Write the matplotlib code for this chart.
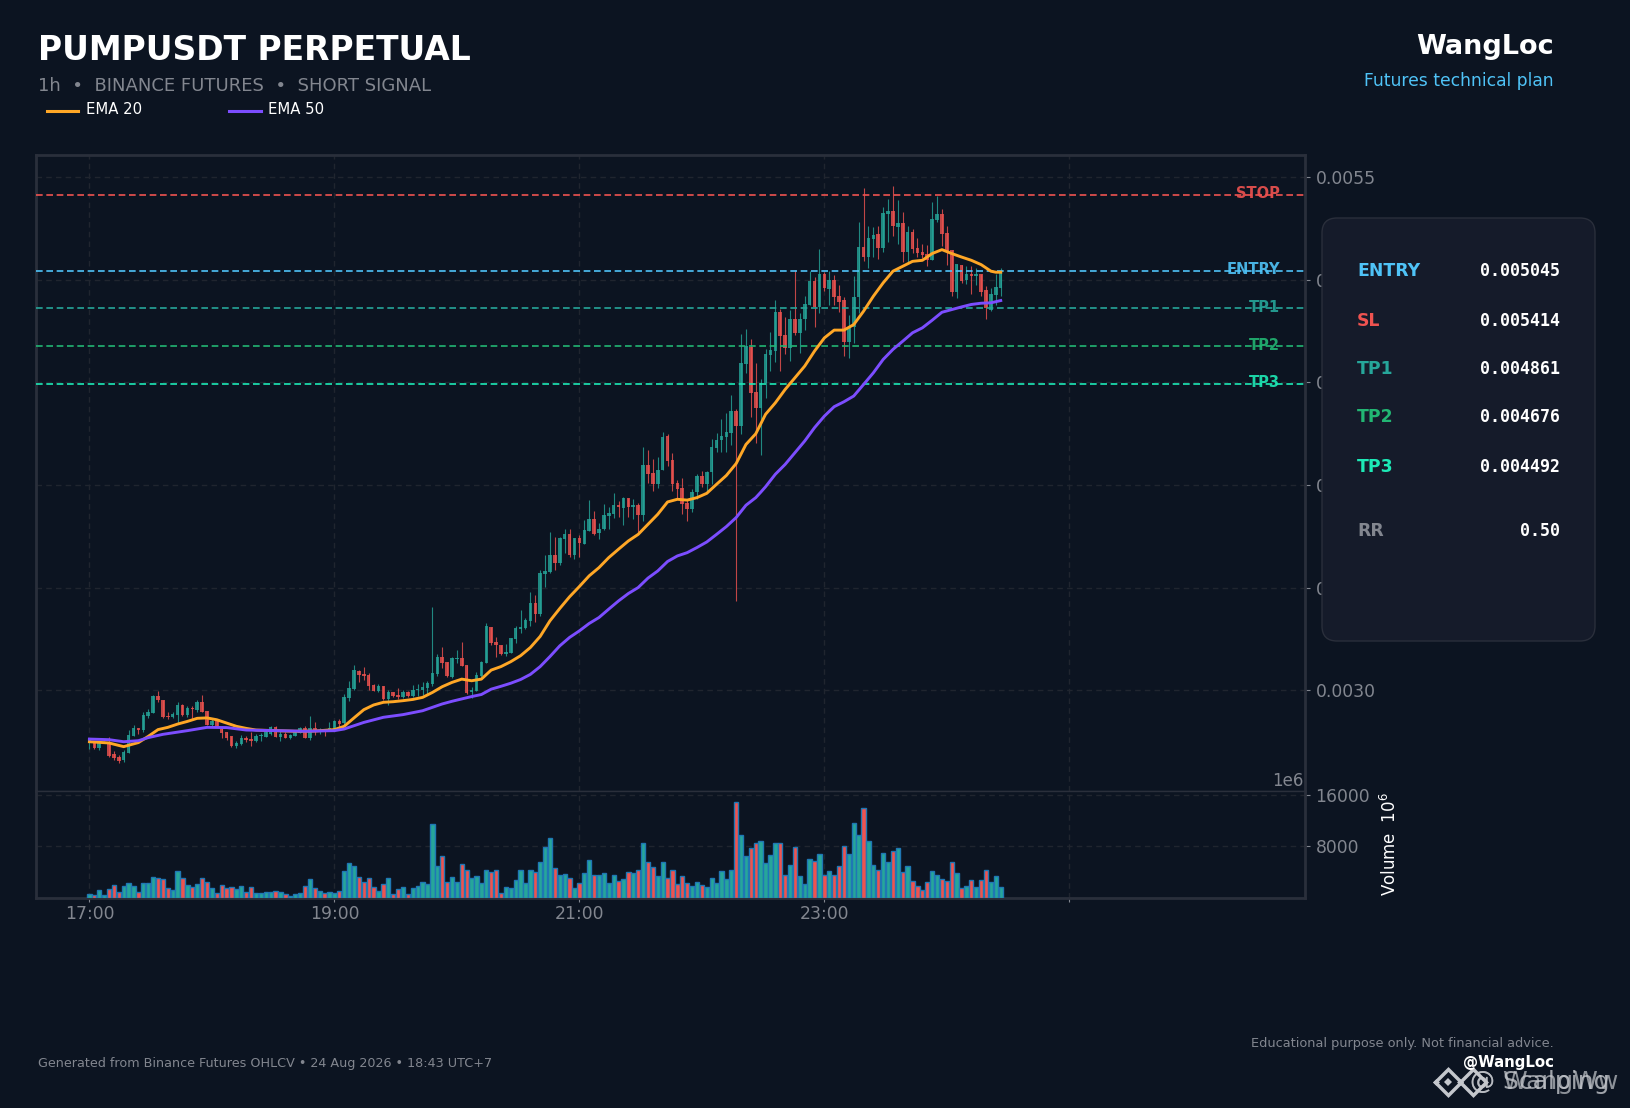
import matplotlib
matplotlib.use("Agg")
import matplotlib.pyplot as plt
from matplotlib.lines import Line2D
from matplotlib.patches import FancyBboxPatch
from matplotlib.transforms import IdentityTransform

W, H = 1631, 1108
BG = "#0c1421"
PANEL = "#151b2a"
EDGE = "#2a2f3b"
GRID = "#20252f"
GREY = "#82868f"
UP = "#26a69a"
DOWN = "#ef5350"

# prices in 1e-6 USDT
opens = [2744,2744,2718,2747,2744,2692,2678,2660,2695,2776,
         2817,2807,2875,2890,2973,2953,2875,2870,2882,2929,
         2880,2916,2903,2943,2900,2832,2853,2812,2796,2776,
         2728,2739,2768,2763,2754,2776,2775,2788,2820,2772,
         2788,2770,2778,2794,2817,2768,2817,2801,2804,2809,
         2809,2849,2841,2963,3007,3094,3080,3076,3026,2997,
         3021,2956,2992,2977,2966,2992,2973,3000,3000,3012,
         3031,3078,3162,3136,3067,3153,3157,3123,2992,2997,
         3068,3133,3311,3237,3221,3179,3182,3250,3300,3303,
         3337,3425,3371,3568,3577,3658,3619,3736,3760,3658,
         3741,3713,3775,3833,3765,3785,3850,3858,3902,3889,
         3936,3893,3902,3853,4096,4057,4004,4072,4239,4120,
         4008,3984,3911,3882,3965,4043,4005,4062,4180,4218,
         4233,4252,4359,4288,4588,4675,4452,4374,4495,4636,
         4651,4845,4729,4666,4807,4743,4807,4879,4996,4870,
         5030,4957,4999,4923,4904,4695,4768,4914,5162,5113,
         5200,5225,5157,5322,5337,5259,5278,5137,5234,5157,
         5137,5128,5098,5293,5322,5230,5147,4943,5074,4998,
         5030,5017,5030,4952,4855,4928,4962]
closes = [2760,2718,2744,2750,2682,2671,2658,2702,2783,2819,
          2809,2880,2895,2973,2952,2872,2870,2885,2929,2880,
          2914,2909,2943,2896,2832,2851,2825,2793,2767,2729,
          2744,2770,2760,2755,2780,2783,2802,2820,2773,2788,
          2768,2783,2796,2817,2768,2817,2796,2809,2799,2819,
          2853,2838,2966,3010,3099,3075,3070,3023,2997,3023,
          2958,2992,2973,2969,2992,2973,3000,3007,3016,3036,
          3085,3162,3133,3068,3157,3157,3117,2987,3002,3075,
          3138,3315,3229,3222,3177,3187,3255,3305,3308,3344,
          3425,3371,3571,3581,3658,3619,3741,3760,3658,3741,
          3718,3780,3833,3764,3788,3853,3863,3902,3892,3936,
          3893,3902,3853,4096,4052,4004,4072,4234,4117,4004,
          3979,3906,3882,3966,4043,4004,4062,4184,4222,4238,
          4257,4359,4288,4593,4680,4447,4374,4499,4641,4656,
          4845,4724,4666,4807,4742,4811,4884,4996,4870,5030,
          4962,4999,4918,4894,4695,4771,4918,5162,5113,5205,
          5220,5157,5327,5337,5262,5278,5137,5234,5152,5132,
          5123,5098,5298,5322,5225,5139,4943,5079,4996,5030,
          5017,5030,4943,4863,4933,4967,5040]
highs = [2763,2750,2755,2754,2772,2707,2686,2712,2809,2832,
         2817,2893,2909,2976,2998,2953,2896,2896,2942,2934,
         2922,2922,2955,2976,2900,2861,2861,2825,2799,2780,
         2755,2783,2780,2796,2788,2793,2809,2825,2825,2804,
         2796,2788,2809,2820,2825,2877,2844,2819,2812,2844,
         2856,2861,2981,3047,3125,3101,3112,3085,3031,3031,
         3021,3000,2992,3010,3003,2995,3026,3031,3041,3046,
         3404,3177,3209,3140,3161,3196,3238,3123,3015,3088,
         3143,3328,3311,3258,3221,3226,3255,3315,3393,3355,
         3480,3467,3587,3660,3772,3749,3749,3785,3788,3744,
         3756,3830,3927,3874,3817,3910,3895,3963,3923,3942,
         3939,3934,3911,4187,4169,4128,4138,4260,4250,4158,
         4023,4036,3931,3979,4052,4068,4070,4226,4255,4323,
         4353,4440,4372,4734,4761,4713,4593,4518,4664,4745,
         4904,4858,4819,4855,5050,4839,4920,5042,5014,5150,
         5040,5042,5025,4977,4917,4829,5017,5283,5447,5264,
         5257,5260,5354,5393,5458,5387,5328,5264,5247,5204,
         5176,5171,5380,5406,5346,5260,5147,5079,5074,5066,
         5066,5058,5030,4969,4961,5029,5056]
lows = [2715,2715,2712,2744,2678,2660,2648,2653,2695,2776,
        2788,2799,2866,2890,2942,2867,2861,2866,2841,2877,
        2869,2859,2896,2893,2832,2825,2825,2770,2760,2725,
        2721,2734,2747,2731,2750,2755,2772,2783,2772,2754,
        2767,2763,2776,2793,2767,2760,2783,2788,2780,2804,
        2804,2817,2832,2950,3003,3042,3052,3002,2997,2994,
        2955,2929,2966,2958,2961,2966,2968,2974,2977,2982,
        3023,3068,3107,3065,3059,3133,3117,2984,2961,2997,
        3063,3133,3221,3161,3174,3166,3180,3229,3282,3299,
        3315,3334,3363,3506,3574,3587,3610,3668,3650,3642,
        3652,3712,3775,3756,3736,3782,3788,3840,3846,3807,
        3845,3837,3772,3825,4012,3971,3987,4072,4093,3971,
        3934,3858,3825,3869,3931,3992,3963,4004,4161,4161,
        4161,4197,3434,4249,4544,4333,4204,4145,4426,4554,
        4599,4554,4638,4606,4730,4644,4755,4875,4771,4836,
        4946,4878,4878,4845,4628,4620,4690,4839,5092,5058,
        5111,5102,5137,5183,5212,5176,5085,5082,5131,5111,
        5105,5069,5098,5280,5163,5074,4923,4910,4985,4980,
        4933,4977,4920,4810,4847,4875,4920]
# volume in units of 1e6
volumes = [520,470,1140,360,1300,1920,940,1770,2240,1770,
           940,2240,2240,3170,3020,2860,1460,1140,4110,3020,
           1920,1610,2080,3020,2390,1460,780,1920,1460,1610,
           1300,1770,940,1610,780,780,940,940,1090,940,
           620,310,620,780,1770,2860,1460,1090,780,940,
           780,1090,4110,5460,4990,3280,2390,3020,1610,990,
           2080,3020,620,1400,1610,620,1460,1770,2390,2080,
           11440,4890,6450,2390,3170,2390,5300,4370,3020,3330,
           2240,4370,4060,4370,780,1610,1460,2700,4260,2240,
           4370,4060,5620,7850,9260,4580,3590,3740,3120,1560,
           2340,3900,5930,3590,3590,3900,2340,3590,2650,2960,
           4060,3900,4370,8580,5620,4840,3430,5620,3120,4370,
           2180,3430,2340,1870,2500,2030,1720,3120,2340,4210,
           2960,4370,14980,9830,6550,7800,8580,8890,5460,6710,
           8580,8580,3590,5150,7960,3430,2180,6080,5770,6860,
           3590,4210,3590,4990,8110,6860,11700,9830,14040,8890,
           5150,4370,7020,5620,7330,7800,4060,4990,2650,1870,
           1250,2500,4210,3590,2960,2650,5620,3900,1560,1870,
           2810,1720,2810,4370,2500,3430,1720]

ema20_x = [0,4,7,10,12,14,16,18,20,22,24,26,28,30,32,34,38,42,46,50,52,54,56,58,60,62,64,66,68,
           70,72,74,76,78,80,82,84,86,88,90,92,94,96,98,100,102,104,106,108,110,112,114,116,118,
           120,122,124,126,128,130,132,134,136,138,140,142,144,146,148,150,152,154,156,158,160,
           162,164,166,168,170,172,174,176,178,180,182,184,185,186]
ema20 = [2750,2744,2726,2746,2776,2809,2820,2836,2849,2864,2866,2857,2841,2825,2815,2807,2804,2801,2802,
         2809,2825,2866,2906,2929,2942,2945,2950,2956,2966,2990,3018,3039,3055,3047,3055,3099,3116,3140,
         3169,3209,3263,3339,3399,3456,3506,3558,3598,3647,3688,3728,3760,3809,3858,3918,3931,3927,3939,
         3960,4004,4047,4105,4198,4250,4345,4401,4466,4523,4580,4653,4717,4755,4755,4782,4847,4920,4985,
         5042,5066,5090,5095,5128,5147,5128,5111,5095,5074,5042,5037,5037]
ema50_x = [0,4,7,10,12,15,20,24,28,32,38,44,50,52,54,56,60,64,68,72,74,78,80,82,84,86,88,90,92,94,96,98,
           100,102,104,106,108,110,112,114,116,118,120,122,124,126,128,130,132,134,136,137,138,140,142,
           144,146,148,150,152,154,156,158,160,162,164,166,168,170,172,174,176,178,180,182,184,186]
ema50 = [2763,2760,2750,2755,2770,2786,2804,2820,2819,2807,2804,2801,2804,2812,2828,2844,2869,2882,2901,
         2934,2947,2970,2980,3006,3020,3035,3053,3078,3116,3165,3217,3258,3290,3326,3355,3396,3436,3472,
         3501,3547,3582,3628,3655,3671,3696,3723,3760,3798,3842,3902,3939,3965,3992,4053,4101,4158,4215,
         4280,4336,4382,4406,4434,4490,4547,4612,4661,4701,4742,4766,4803,4842,4855,4868,4880,4886,4888,4899]

level_names = ["STOP", "ENTRY", "TP1", "TP2", "TP3"]
level_prices = [0.005414, 0.005045, 0.004861, 0.004676, 0.004492]
level_colors = ["#ef5350", "#4fc3f7", "#26a69a", "#22b573", "#1de9b6"]

panel_names = ["ENTRY", "SL", "TP1", "TP2", "TP3", "RR"]
panel_values = ["0.005045", "0.005414", "0.004861", "0.004676", "0.004492", "0.50"]
panel_colors = ["#4fc3f7", "#ef5350", "#26a69a", "#22b573", "#1de9b6", "#82868f"]
panel_rows = [271.5, 320.5, 369, 417.5, 466.5, 531]

time_ticks = [0, 50, 100, 150, 200]
time_labels = ["17:00", "19:00", "21:00", "23:00", ""]
price_ticks = [0.0030, 0.0035, 0.0040, 0.0045, 0.0050, 0.0055]
vol_ticks = [8000, 16000]


def fx(x):
    return x / W


def fy(y):
    return 1 - y / H


def label(x, y, s, **kw):
    kw.setdefault("va", "center")
    return fig.text(fx(x), fy(y), s, **kw)


fig = plt.figure(figsize=(W / 100, H / 100), dpi=100, facecolor=BG)
left, right = fx(36), fx(1305)
ax = fig.add_axes([left, fy(791), right - left, fy(155) - fy(791)], facecolor=BG)
vax = fig.add_axes([left, fy(897.6), right - left, fy(791) - fy(897.6)], facecolor=BG, sharex=ax)

xs = range(len(opens))
o = [v / 1e6 for v in opens]
c = [v / 1e6 for v in closes]
h = [v / 1e6 for v in highs]
l = [v / 1e6 for v in lows]
cols = [UP if a >= b else DOWN for a, b in zip(c, o)]

ax.vlines(xs, l, h, colors=cols, linewidth=0.8, alpha=0.8, zorder=3)
ax.bar(xs, [abs(a - b) for a, b in zip(c, o)], bottom=[min(a, b) for a, b in zip(c, o)],
       width=0.72, color=cols, alpha=0.8, linewidth=0, zorder=4)

ax.plot(ema20_x, [v / 1e6 for v in ema20], color="#ffa726", lw=2.1, zorder=5)
ax.plot(ema50_x, [v / 1e6 for v in ema50], color="#7c4dff", lw=2.1, zorder=6)

for name, price, col in zip(level_names, level_prices, level_colors):
    ax.axhline(price, color=col, lw=1.2, ls=(0, (4, 2.2)), zorder=4)
    ax.text(243, price + 0.000006, name, color=col, fontsize=10.5, fontweight="bold",
            ha="right", va="center", zorder=3.5, alpha=0.9)

vax.bar(xs, volumes, width=0.88, color=cols, edgecolor="#1f77b4", linewidth=1.0, zorder=3)

ax.set_xlim(-10.9, 248.1)
ax.set_ylim(0.00251, 0.005608)
vax.set_ylim(0, 16624)

ax.set_xticks(time_ticks)
vax.set_xticks(time_ticks)
vax.set_xticklabels(time_labels)
ax.set_yticks(price_ticks)
ax.set_yticklabels(["%.4f" % p for p in price_ticks])
vax.set_yticks(vol_ticks)
vax.set_yticklabels([str(v) for v in vol_ticks])

for a in (ax, vax):
    a.yaxis.tick_right()
    a.grid(True, color=GRID, lw=1, ls=(0, (4, 3)), zorder=0)
    a.set_axisbelow(True)
    a.tick_params(axis="y", colors=GREY, labelsize=12.4, length=3.5, width=0.8, pad=4)
    for s in a.spines.values():
        s.set_color(EDGE)
        s.set_linewidth(2)
ax.tick_params(axis="x", length=0, labelbottom=False)
vax.tick_params(axis="x", colors=GREY, labelsize=12.4, length=3, width=0.8, pad=2.5)
ax.spines["bottom"].set_linewidth(1)
vax.spines["top"].set_linewidth(1)

# header
label(38, 51, "PUMPUSDT PERPETUAL", color="white", fontsize=23.8, fontweight="bold")
label(38, 86, "1h  •  BINANCE FUTURES  •  SHORT SIGNAL", color=GREY, fontsize=13)
fig.add_artist(Line2D([fx(47), fx(78)], [fy(111), fy(111)], color="#ffa726", lw=2.2))
fig.add_artist(Line2D([fx(229), fx(261)], [fy(111), fy(111)], color="#7c4dff", lw=2.2))
label(86, 110, "EMA 20", color="white", fontsize=10.7)
label(268, 110, "EMA 50", color="white", fontsize=10.7)
label(1554, 47, "WangLoc", color="white", fontsize=19.5, fontweight="bold", ha="right")
label(1554, 81, "Futures technical plan", color="#4fc3f7", fontsize=12.3, ha="right")

# right hand panel, sits over the tick labels
panel = FancyBboxPatch((1322, H - 641), 273, 423, boxstyle="round,pad=0,rounding_size=15",
                       facecolor=PANEL, edgecolor=EDGE, linewidth=1,
                       transform=IdentityTransform(), zorder=2)
fig.add_artist(panel)
for name, value, col, row in zip(panel_names, panel_values, panel_colors, panel_rows):
    label(1357, row, name, color=col, fontsize=12.4, fontweight="bold", zorder=3)
    label(1560, row, value, color="white", fontsize=12, fontweight="bold",
          family="DejaVu Sans Mono", ha="right", zorder=3)

label(1304, 781, "1e6", color=GREY, fontsize=12, ha="right")
label(1390, 844, "Volume  $10^6$", color="white", fontsize=12, rotation=90, ha="center")

# footer
label(38, 1064, "Generated from Binance Futures OHLCV • 24 Aug 2026 • 18:43 UTC+7", color=GREY, fontsize=9.15)
label(1554, 1043, "Educational purpose only. Not financial advice.", color=GREY, fontsize=9.3, ha="right")
label(1554, 1063, "@WangLoc", color="white", fontsize=10.8, fontweight="bold", ha="right")

# overlapping watermark
WM = "#c4c7cc"
py = H - 1082
for x, y, size, lw, face in [(1448, py, 13, 2.5, "none"), (1448, py, 4, 0, WM), (1436, py, 3.5, 0, WM),
                             (1460, py, 3.5, 0, WM), (1473, py, 13, 2.5, "none")]:
    fig.add_artist(Line2D([x], [y], marker="D", ms=size, mfc=face, mec=WM, mew=lw, ls="none",
                          transform=IdentityTransform()))
label(1470, 1082, "@ Scalping", color=WM, fontsize=18, alpha=0.8)
label(1470, 1082, "@ WangWw", color=WM, fontsize=18, alpha=0.7)

fig.savefig("out.png", dpi=100, facecolor=BG)
